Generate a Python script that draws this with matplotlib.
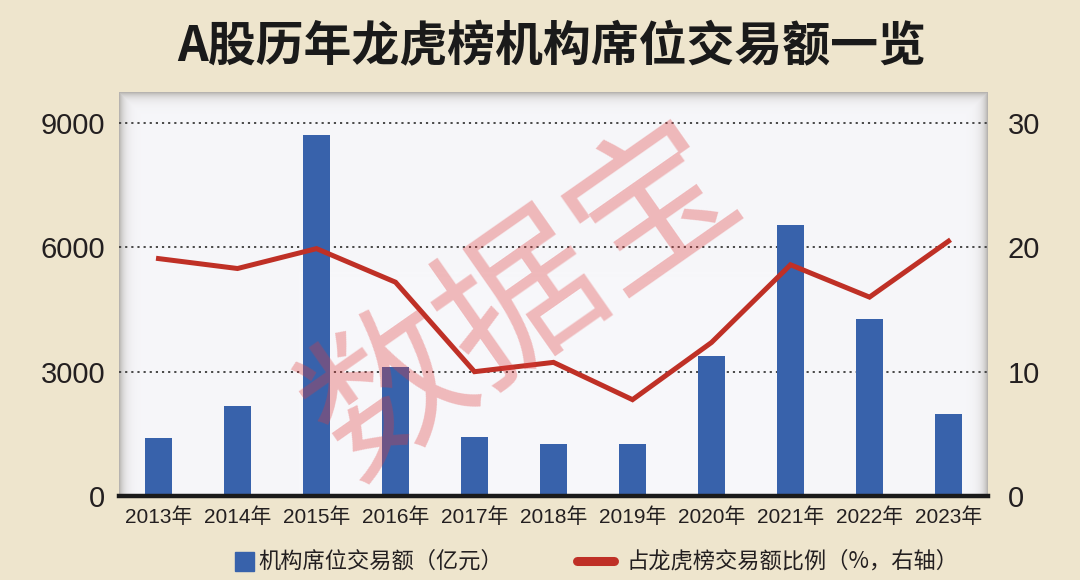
import numpy as np
import matplotlib
matplotlib.use('Agg')
import matplotlib.pyplot as plt
from matplotlib.patches import Rectangle
from matplotlib.lines import Line2D

plt.rcParams['font.family'] = ['Noto Sans CJK SC', 'DejaVu Sans']

# Data
years = ['2013年', '2014年', '2015年', '2016年', '2017年', '2018年',
         '2019年', '2020年', '2021年', '2022年', '2023年']
amount = [1410, 2160, 8720, 3120, 1430, 1256, 1256, 3390, 6530, 4268, 1990]  # 亿元
share = [19.1, 18.3, 19.9, 17.2, 10.0, 10.75, 7.75, 12.35, 18.6, 16.0, 20.5]  # %

left_ticks = [0, 3000, 6000, 9000]
right_ticks = [0, 10, 20, 30]

title = 'A股历年龙虎榜机构席位交易额一览'
bar_label = '机构席位交易额（亿元）'
line_label = '占龙虎榜交易额比例（%，右轴）'
watermark = '数据宝'

bg_col = '#eee5cd'
bar_col = '#3862ab'
line_col = '#bf3026'

fig = plt.figure(figsize=(10.8, 5.8), dpi=100, facecolor=bg_col)
pos = [119 / 1080, 84 / 580, 869 / 1080, 404 / 580]

# plot area background with an inner shadow along the edges
bg = fig.add_axes(pos, zorder=0)
bg.set_axis_off()
h, w = 404, 869
yy, xx = np.mgrid[0:h, 0:w]
d = np.minimum(np.minimum(xx, w - 1 - xx), yy).astype(float)
img = np.zeros((h, w, 4))
img[..., 0] = 247 / 255
img[..., 1] = 247 / 255
img[..., 2] = 250 / 255
img[..., 3] = 1.0
shade = 0.6 * np.exp(-d / 5.0)
for c, v in enumerate([0.55, 0.53, 0.50]):
    img[..., c] = img[..., c] * (1 - shade) + v * shade
bg.imshow(img, extent=[0, 1, 0, 1], aspect='auto', interpolation='bilinear')
bg.set_xlim(0, 1)
bg.set_ylim(0, 1)

ax = fig.add_axes(pos, zorder=1)
ax.set_facecolor('none')
x = np.arange(len(years))
ax.bar(x, amount, width=0.34, color=bar_col, zorder=3)
ax.set_xlim(-0.5, len(years) - 0.5)
ax.set_ylim(0, 9750)
ax.set_yticks(left_ticks)
ax.set_yticklabels([str(t) for t in left_ticks], family=['Liberation Sans', 'DejaVu Sans'],
                   fontsize=21, color='#231f20')
ax.set_xticks(x)
ax.set_xticklabels(years, family=['Liberation Sans', 'Noto Sans CJK SC'],
                   fontsize=15, color='#231f20')
ax.tick_params(axis='y', length=0, pad=10)
ax.tick_params(axis='x', length=0, pad=8)
for t in left_ticks[1:]:
    ax.axhline(t, color='#3a3a3a', lw=1.3, ls=(0, (1.2, 2.2)), zorder=2)
for s in ['left', 'right', 'top']:
    ax.spines[s].set_visible(False)
ax.spines['bottom'].set_linewidth(3.2)
ax.spines['bottom'].set_color('#1a1a1a')
ax.spines['bottom'].set_zorder(5)

ax2 = ax.twinx()
ax2.plot(x, share, color=line_col, lw=3.6, solid_joinstyle='miter', zorder=4)
ax2.set_ylim(0, 32.5)
ax2.set_yticks(right_ticks)
ax2.set_yticklabels([str(t) for t in right_ticks], family=['Liberation Sans', 'DejaVu Sans'],
                    fontsize=21, color='#231f20')
ax2.tick_params(axis='y', length=0, pad=14)
for s in ['left', 'right', 'top', 'bottom']:
    ax2.spines[s].set_visible(False)

# watermark
fig.text(0.485, 0.478, watermark, fontsize=116, color='#e03a3a', alpha=0.33,
         rotation=35, ha='center', va='center', zorder=10)

fig.text(0.511, 0.920, title, fontsize=34.5, fontweight='heavy', color='#1a1a1a',
         ha='center', va='center')

# legend
ly = (580 - 561) / 580
fig.add_artist(Rectangle((235 / 1080, ly - 9.5 / 580), 19 / 1080, 19 / 580,
                         transform=fig.transFigure, color=bar_col))
fig.text(258 / 1080, ly, bar_label, fontsize=16, color='#231f20', va='center', ha='left')
fig.add_artist(Line2D([577 / 1080, 614 / 1080], [ly, ly], transform=fig.transFigure,
                      color=line_col, lw=6.5, solid_capstyle='round'))
fig.text(626 / 1080, ly, line_label, fontsize=16, color='#231f20', va='center', ha='left')

fig.savefig('out.png', dpi=100, facecolor=bg_col)
